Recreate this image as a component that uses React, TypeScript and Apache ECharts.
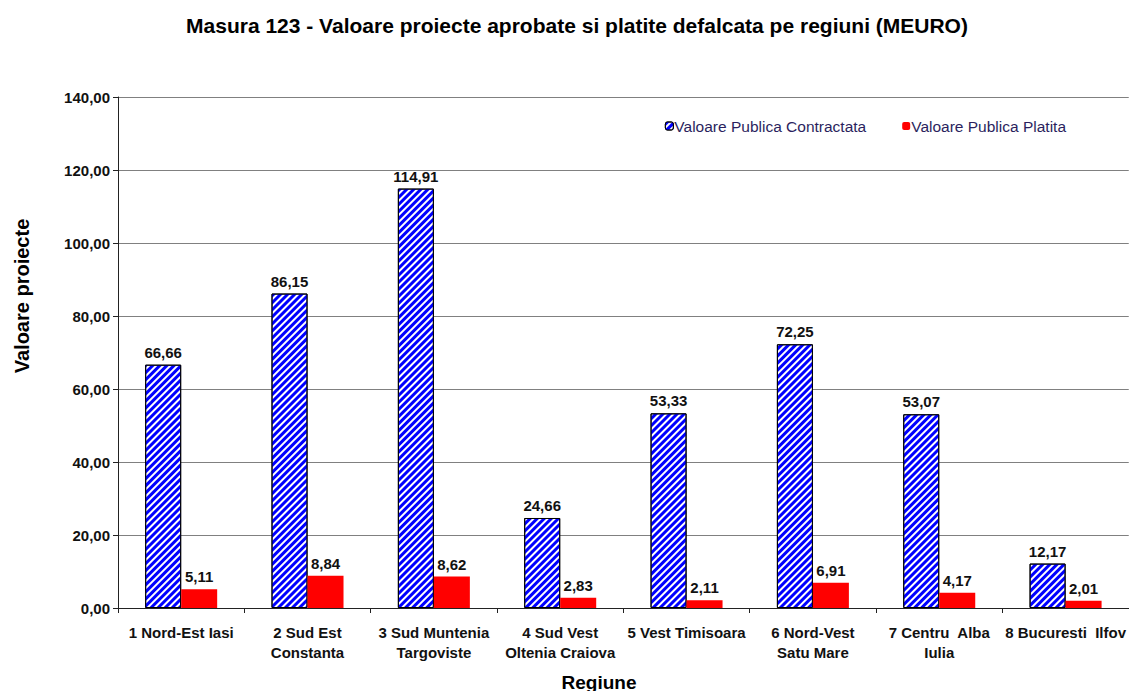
import React, { useEffect, useRef } from "react";
import * as echarts from "echarts";

const categories = [
  "1 Nord-Est Iasi",
  "2 Sud Est\nConstanta",
  "3 Sud Muntenia\nTargoviste",
  "4 Sud Vest\nOltenia Craiova",
  "5 Vest Timisoara",
  "6 Nord-Vest\nSatu Mare",
  "7 Centru  Alba\nIulia",
  "8 Bucuresti  Ilfov",
];
const contractata = [66.66, 86.15, 114.91, 24.66, 53.33, 72.25, 53.07, 12.17];
const platita = [5.11, 8.84, 8.62, 2.83, 2.11, 6.91, 4.17, 2.01];
const seriesNames = ["Valoare Publica Contractata", "Valoare Publica Platita"];

const fmt = (v: number) => v.toFixed(2).replace(".", ",");
const FONT = "'Liberation Sans', Arial, sans-serif";

const hatch = {
  symbol: "rect",
  color: "#0000ff",
  dashArrayX: [1, 0],
  dashArrayY: [2.6, 2],
  rotation: -Math.PI / 4,
};

export default function App() {
  const ref = useRef<HTMLDivElement>(null);
  useEffect(() => {
    if (!ref.current) return;
    const chart = echarts.init(ref.current, undefined, { renderer: "svg" });
    const labelStyle = {
      show: true,
      position: "top" as const,
      distance: 5,
      fontFamily: FONT,
      fontSize: 15,
      fontWeight: "bold" as const,
      color: "#111",
      formatter: (p: any) => fmt(p.value),
    };
    chart.setOption({
      animation: false,
      backgroundColor: "#ffffff",
      textStyle: { fontFamily: FONT },
      title: {
        text: "Masura 123 - Valoare proiecte aprobate si platite defalcata pe regiuni (MEURO)",
        left: 572,
        top: 10,
        textAlign: "center",
        textStyle: { fontFamily: FONT, fontSize: 21, fontWeight: "bold", color: "#000" },
      },
      legend: {
        right: 58,
        top: 113,
        itemWidth: 8,
        itemHeight: 8,
        itemGap: 36,
        textStyle: { fontFamily: FONT, fontSize: 15.5, color: "#2b1f5e", padding: [0, 0, 0, -4] },
        data: [
          { name: seriesNames[0], itemStyle: { color: "#ffffff", borderColor: "#000", borderWidth: 1, decal: hatch } },
          { name: seriesNames[1] },
        ],
      },
      graphic: [
        {
          type: "text",
          x: 22,
          y: 296,
          rotation: Math.PI / 2,
          style: {
            text: "Valoare proiecte",
            fontFamily: FONT,
            fontSize: 20,
            fontWeight: "bold",
            fill: "#000",
            align: "center",
            verticalAlign: "middle",
          },
        },
        {
          type: "text",
          x: 599,
          y: 682,
          style: {
            text: "Regiune",
            fontFamily: FONT,
            fontSize: 19,
            fontWeight: "bold",
            fill: "#000",
            align: "center",
            verticalAlign: "middle",
          },
        },
      ],
      grid: { left: 118, right: 0, top: 97, bottom: 83, containLabel: false },
      xAxis: {
        type: "category",
        data: categories,
        axisLine: { lineStyle: { color: "#222", width: 1 } },
        axisTick: { show: true, alignWithLabel: false, length: 5, lineStyle: { color: "#222" } },
        axisLabel: {
          interval: 0,
          margin: 14,
          fontFamily: FONT,
          fontSize: 15,
          fontWeight: "bold",
          color: "#111",
          lineHeight: 20,
        },
      },
      yAxis: {
        type: "value",
        min: 0,
        max: 140,
        interval: 20,
        axisLine: { show: true, lineStyle: { color: "#222", width: 1 } },
        axisTick: { show: true, length: 5, lineStyle: { color: "#222" } },
        axisLabel: {
          margin: 8,
          fontFamily: FONT,
          fontSize: 15,
          fontWeight: "bold",
          color: "#111",
          formatter: (v: number) => fmt(v),
        },
        splitLine: { show: true, lineStyle: { color: "#808080", width: 1 } },
      },
      series: [
        {
          name: seriesNames[0],
          type: "bar",
          data: contractata,
          barWidth: 36,
          barGap: "0%",
          itemStyle: {
            color: "#ffffff",
            borderColor: "#000",
            borderWidth: 1,
            decal: hatch,
          },
          label: labelStyle,
        },
        {
          name: seriesNames[1],
          type: "bar",
          data: platita,
          barWidth: 36,
          itemStyle: { color: "#ff0000" },
          label: labelStyle,
        },
      ],
    });
    return () => chart.dispose();
  }, []);
  return (
    <div
      ref={ref}
      style={{ position: "fixed", left: 0, top: 0, width: 1129, height: 691 }}
    />
  );
}
